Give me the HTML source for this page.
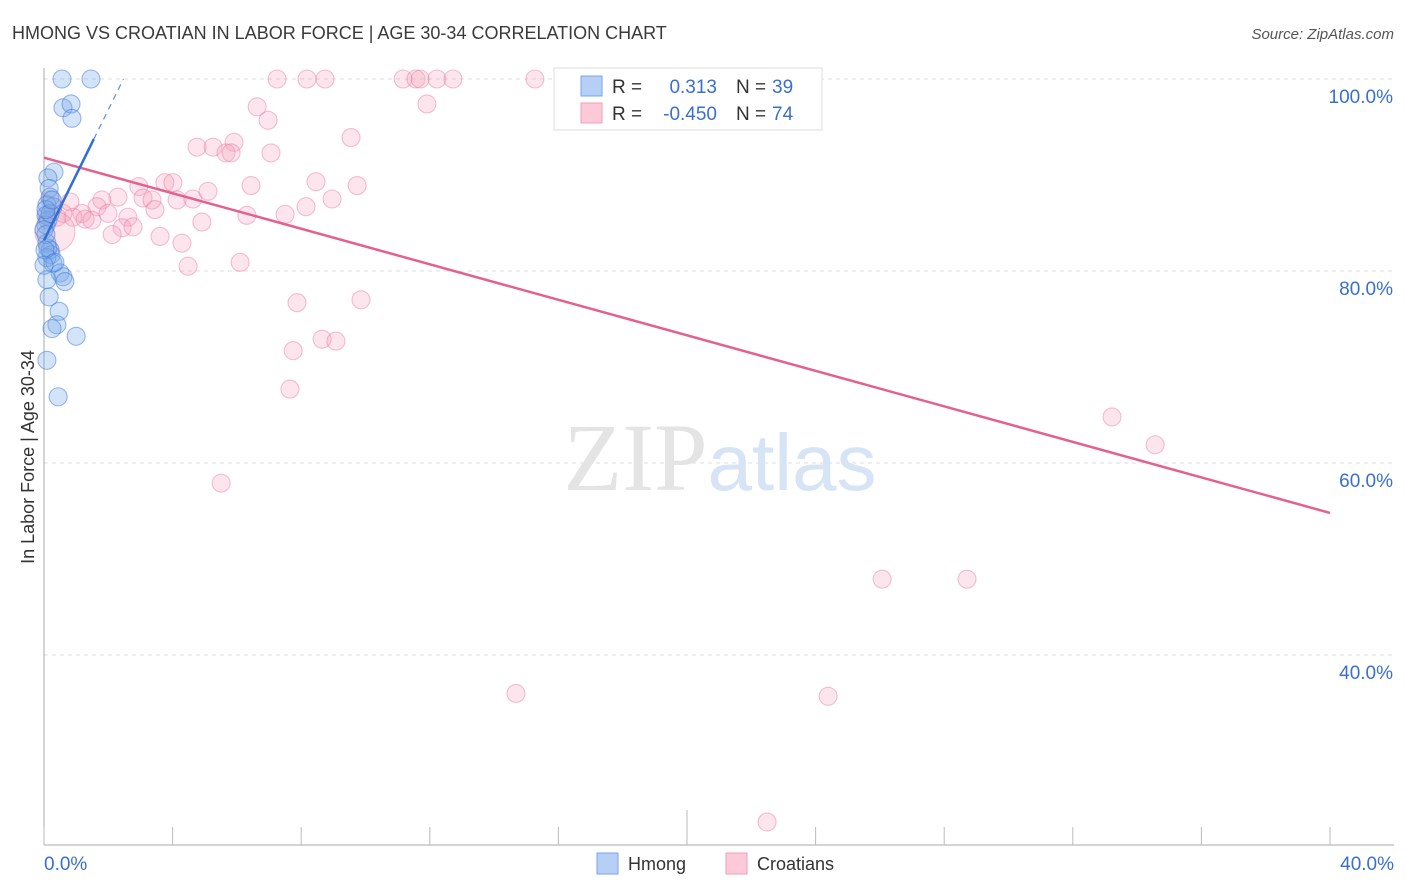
<!DOCTYPE html>
<html><head><meta charset="utf-8"><style>
body{margin:0;background:#fff;font-family:"Liberation Sans",sans-serif;}
svg{display:block}
</style></head><body>
<svg id="chart" width="1406" height="892" xmlns="http://www.w3.org/2000/svg">
<text x="12" y="39" font-size="18" fill="#3a3a3a">HMONG VS CROATIAN IN LABOR FORCE | AGE 30-34 CORRELATION CHART</text>
<text x="1394" y="39" font-size="15" fill="#555" text-anchor="end" font-style="italic">Source: ZipAtlas.com</text>
<g id="grid"></g>
<text x="720" y="490" font-size="96" text-anchor="middle"><tspan fill="#e4e4e4" font-family="Liberation Serif">ZIP</tspan><tspan fill="#d6e4f5" font-size="80">atlas</tspan></text>
<text transform="translate(34,457) rotate(-90)" font-size="18" fill="#333" text-anchor="middle">In Labor Force | Age 30-34</text>
<g id="pts"></g>
<g id="lines"></g>
<g>
<rect x="554" y="68" width="268" height="62" fill="#fff" stroke="#ddd"/>
<rect x="581" y="76" width="21" height="20" fill="#b6d0f5" stroke="#7aa6e6"/>
<rect x="581" y="103" width="21" height="20" fill="#fcc9d9" stroke="#f0a0bb"/>
<text x="612" y="93" font-size="19" fill="#333">R =</text>
<text x="717" y="93" font-size="19" fill="#3a6fd0" text-anchor="end">0.313</text>
<text x="736" y="93" font-size="19" fill="#333">N =</text>
<text x="772" y="93" font-size="19" fill="#3a6fd0">39</text>
<text x="612" y="120" font-size="19" fill="#333">R =</text>
<text x="717" y="120" font-size="19" fill="#3a6fd0" text-anchor="end">-0.450</text>
<text x="736" y="120" font-size="19" fill="#333">N =</text>
<text x="772" y="120" font-size="19" fill="#3a6fd0">74</text>
</g>
<g>
<rect x="597" y="853" width="21" height="21" fill="#b6d0f5" stroke="#7aa6e6"/>
<text x="628" y="870" font-size="18" fill="#333">Hmong</text>
<rect x="726" y="853" width="21" height="21" fill="#fcc9d9" stroke="#f0a0bb"/>
<text x="757" y="870" font-size="18" fill="#333">Croatians</text>
</g>
</svg>
<script>
const yTicks=[100,80,60,40];
const yTickLabels=["100.0%","80.0%","60.0%","40.0%"];
const xTickLabels=["0.0%","40.0%"];
const hmongX=[0.56,1.46,0.59,0.84,0.87,0.31,0.12,0.16,0.19,0.09,0.28,0.06,0.12,0.06,0,0.09,0.19,0.22,0.09,0.28,0.5,0.59,0.65,0.09,0.16,0.47,0.4,0.25,1.0,0.09,0.44,0.12,0.06,0.19,0.03,0.34,0,0.06,0.25];
const hmongY=[100,100,97.0,97.4,95.9,90.3,89.7,88.6,87.7,86.9,86.7,85.8,85.3,84.8,84.3,82.9,82.2,81.7,81.4,80.8,79.8,79.4,78.9,79.1,77.3,75.8,74.4,74.0,73.2,70.7,66.9,82.4,83.8,86.0,82.2,80.9,80.6,86.4,87.4];
const croX=[7.25,8.18,8.74,11.17,11.57,11.7,12.22,12.72,15.27,16.83,23.3,6.63,6.97,11.91,9.55,4.76,5.26,5.91,5.66,5.82,7.06,2.95,3.76,4.01,6.44,8.46,9.74,3.08,3.36,4.14,4.63,5.1,2.3,1.8,0.81,3.45,6.31,7.5,8.15,8.96,1.65,1.18,1.99,0.9,0.59,0.4,1.28,1.49,2.61,2.43,2.77,2.12,3.61,4.91,4.29,4.48,6.1,7.87,9.86,8.65,9.08,7.75,7.65,0.34,5.51,33.22,34.56,26.07,28.71,14.68,24.39,22.49,0.09,0.19];
const croY=[100,100,100,100,100,100,100,100,100,100,100,97.1,95.7,97.4,93.9,92.9,92.9,93.4,92.3,92.3,92.3,88.8,89.2,89.2,88.9,89.3,88.9,87.6,87.4,87.4,87.5,88.3,87.7,87.4,87.2,86.4,85.8,85.9,86.7,87.5,86.7,86.0,86.0,85.6,86.0,85.6,85.4,85.3,85.6,84.5,84.6,83.8,83.6,85.1,82.9,80.5,80.9,76.7,77.0,72.9,72.7,71.7,67.7,84.1,57.9,64.8,61.9,47.9,47.9,36.0,35.7,22.6,85.8,87.4];
const hmongTrend=[83.2,6.8];
const croTrend=[91.8,-0.925];
const NS="http://www.w3.org/2000/svg";
const X=v=>44+v*32.15, Y=v=>79+(100-v)*9.6;
function mk(t,a,p){const e=document.createElementNS(NS,t);for(const k in a)e.setAttribute(k,a[k]);p.appendChild(e);return e;}
const grid=document.getElementById('grid');
yTicks.forEach((t,i)=>{
 const l=mk('line',{x1:44,x2:1394,y1:Y(t),y2:Y(t),stroke:'#ddd','stroke-dasharray':'4,4'},grid);
 
 
 const tx=mk('text',{x:1393,y:Y(t)+24,'font-size':19,fill:'#3a6fd0','text-anchor':'end'},grid);tx.textContent=yTickLabels[i];
 
 
});
mk('line',{x1:44,x2:44,y1:68,y2:845,stroke:'#aaa'},grid);
mk('line',{x1:44,x2:1394,y1:845,y2:845,stroke:'#aaa'},grid);
for(let k=0;k<=10;k++){const x=X(k*4);const t=mk('line',{x1:x,x2:x,y1:k==5?810:827,y2:845,stroke:'#bbb'},grid);
 
 }
[[0,'start',44],[40,'end',1394]].forEach((d,i)=>{const t=mk('text',{x:d[2],y:870,'font-size':19,fill:'#3a6fd0','text-anchor':d[1]},grid);t.textContent=xTickLabels[i];
 
 });
const pts=document.getElementById('pts');
croX.forEach((x,i)=>{const c=mk('circle',{cx:X(x),cy:Y(croY[i]),r:i==63?20:9,fill:'rgba(246,160,188,0.28)',stroke:'rgba(232,120,158,0.45)','stroke-width':1.1},pts);
 
 });
hmongX.forEach((x,i)=>{const c=mk('circle',{cx:X(x),cy:Y(hmongY[i]),r:9,fill:'rgba(120,170,235,0.33)',stroke:'rgba(60,120,215,0.5)','stroke-width':1.1},pts);
 
 });
const lines=document.getElementById('lines');
const pl=mk('line',{x1:X(0),y1:Y(croTrend[0]),x2:X(40),y2:Y(croTrend[0]+croTrend[1]*40),stroke:'#e4618f','stroke-width':2.5},lines);


const xe=1.55, xd=(100-hmongTrend[0])/hmongTrend[1];
const bl=mk('line',{x1:X(0),y1:Y(hmongTrend[0]),x2:X(xe),y2:Y(hmongTrend[0]+hmongTrend[1]*xe),stroke:'#2f6fd6','stroke-width':2.5},lines);


const bd=mk('line',{x1:X(xe),y1:Y(hmongTrend[0]+hmongTrend[1]*xe),x2:X(xd),y2:Y(100),stroke:'#5b8fe0','stroke-width':1.2,'stroke-dasharray':'6,5'},lines);


</script>
</body></html>
